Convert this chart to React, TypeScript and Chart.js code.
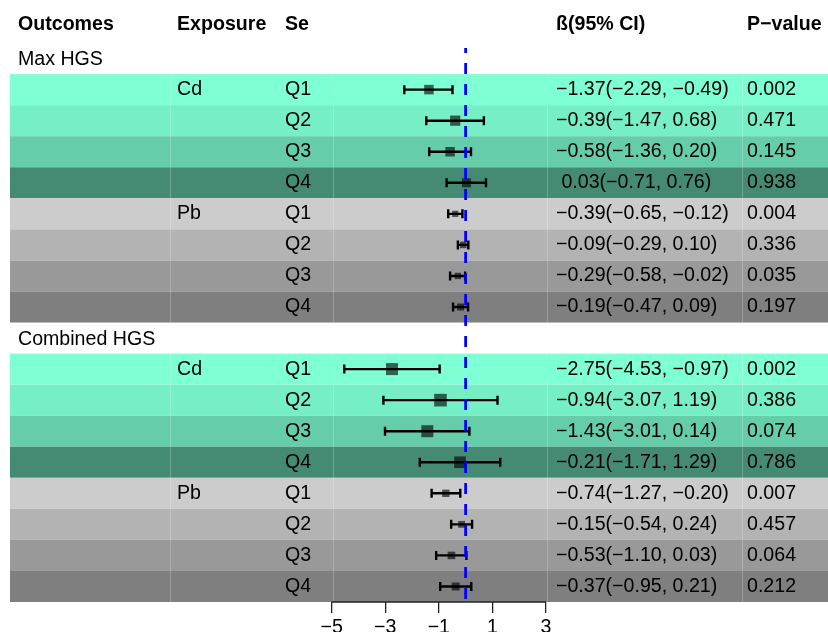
import React, { useEffect, useRef } from "react";
import { Chart, registerables } from "chart.js";

Chart.register(...registerables);

// ---------- data ----------
const outcomes = ["Max HGS", "Combined HGS"];
const exposures = ["Cd", "Pb"];
const quartiles = ["Q1", "Q2", "Q3", "Q4"];

const maxEst = [-1.37, -0.39, -0.58, 0.03, -0.39, -0.09, -0.29, -0.19];
const maxLo = [-2.29, -1.47, -1.36, -0.71, -0.65, -0.29, -0.58, -0.47];
const maxHi = [-0.49, 0.68, 0.2, 0.76, -0.12, 0.1, -0.02, 0.09];
const maxP = ["0.002", "0.471", "0.145", "0.938", "0.004", "0.336", "0.035", "0.197"];

const combEst = [-2.75, -0.94, -1.43, -0.21, -0.74, -0.15, -0.53, -0.37];
const combLo = [-4.53, -3.07, -3.01, -1.71, -1.27, -0.54, -1.1, -0.95];
const combHi = [-0.97, 1.19, 0.14, 1.29, -0.2, 0.24, 0.03, 0.21];
const combP = ["0.002", "0.386", "0.074", "0.786", "0.007", "0.457", "0.064", "0.212"];

const xTicks = [-5, -3, -1, 1, 3];
const headers = ["Outcomes", "Exposure", "Se", "ß(95% CI)", "P−value"];

// ---------- styles ----------
const FONT = "'Liberation Sans', Arial, Helvetica, sans-serif";
const FS = 19.6;
const cdColors = ["#7FFFD4", "#76EEC6", "#66CDAA", "#458B74"];
const pbColors = ["#CCCCCC", "#B3B3B3", "#999999", "#7F7F7F"];
const maxSizes = [9.5, 10.2, 9.5, 9, 6.2, 6.6, 6.4, 7];
const combSizes = [12, 12.6, 12, 11.7, 7.4, 6.8, 7.6, 8];
const colX = { outcome: 18, exposure: 177, se: 285, beta: 556, p: 747 };
const seams = [170, 333, 547, 742];

const fmt = (v: number) => (v < 0 ? "−" : "") + Math.abs(v).toFixed(2);

type Row = {
  kind: "header" | "outcome" | "data";
  outcome?: string;
  exposure?: string;
  q?: string;
  est?: number;
  lo?: number;
  hi?: number;
  p?: string;
  color?: string;
  size?: number;
};

function buildRows(): Row[] {
  const rows: Row[] = [{ kind: "header" }];
  const groups = [
    { est: maxEst, lo: maxLo, hi: maxHi, p: maxP, sizes: maxSizes },
    { est: combEst, lo: combLo, hi: combHi, p: combP, sizes: combSizes },
  ];
  groups.forEach((g, gi) => {
    rows.push({ kind: "outcome", outcome: outcomes[gi] });
    exposures.forEach((ex, ei) => {
      quartiles.forEach((q, qi) => {
        const k = ei * 4 + qi;
        rows.push({
          kind: "data",
          exposure: qi === 0 ? ex : "",
          q,
          est: g.est[k],
          lo: g.lo[k],
          hi: g.hi[k],
          p: g.p[k],
          color: ei === 0 ? cdColors[qi] : pbColors[qi],
          size: g.sizes[k],
        });
      });
    });
  });
  return rows;
}

export default function App() {
  const ref = useRef<HTMLCanvasElement | null>(null);

  useEffect(() => {
    if (!ref.current) return;
    const rows = buildRows();
    const dataRows = rows
      .map((r, i) => ({ r, i }))
      .filter((o) => o.r.kind === "data");

    const bandPlugin = {
      id: "bands",
      beforeDatasetsDraw(chart: any) {
        const { ctx, chartArea, scales } = chart;
        const y = scales.y;
        const x = scales.x;
        ctx.save();
        dataRows.forEach(({ r, i }) => {
          const top = y.getPixelForValue(i - 0.5);
          const bot = y.getPixelForValue(i + 0.5);
          ctx.fillStyle = r.color;
          ctx.fillRect(chartArea.left, top, chartArea.right - chartArea.left, bot - top);
          ctx.strokeStyle = "rgba(255,255,255,0.22)";
          ctx.lineWidth = 1;
          seams.forEach((sx) => {
            ctx.beginPath();
            ctx.moveTo(sx + 0.5, top);
            ctx.lineTo(sx + 0.5, bot);
            ctx.stroke();
          });
        });
        // confidence intervals
        ctx.strokeStyle = "#000";
        ctx.lineWidth = 2.4;
        dataRows.forEach(({ r, i }) => {
          const yc = y.getPixelForValue(i);
          const xl = x.getPixelForValue(r.lo);
          const xh = x.getPixelForValue(r.hi);
          ctx.beginPath();
          ctx.moveTo(xl, yc);
          ctx.lineTo(xh, yc);
          ctx.moveTo(xl, yc - 4.5);
          ctx.lineTo(xl, yc + 4.5);
          ctx.moveTo(xh, yc - 4.5);
          ctx.lineTo(xh, yc + 4.5);
          ctx.stroke();
        });
        ctx.restore();
      },
      afterDatasetsDraw(chart: any) {
        const { ctx, chartArea, scales } = chart;
        const x0 = scales.x.getPixelForValue(0);
        ctx.save();
        ctx.strokeStyle = "#0000FF";
        ctx.lineWidth = 2.8;
        ctx.setLineDash([11, 10]);
        ctx.lineDashOffset = 6;
        ctx.beginPath();
        ctx.moveTo(x0, 48);
        ctx.lineTo(x0, chartArea.bottom);
        ctx.stroke();
        ctx.setLineDash([]);
        // axis line
        ctx.strokeStyle = "#222";
        ctx.lineWidth = 1.3;
        ctx.beginPath();
        ctx.moveTo(scales.x.getPixelForValue(xTicks[0]), chartArea.bottom);
        ctx.lineTo(scales.x.getPixelForValue(xTicks[xTicks.length - 1]), chartArea.bottom);
        ctx.stroke();
        // text
        ctx.fillStyle = "#000";
        ctx.textBaseline = "middle";
        ctx.textAlign = "left";
        const hx = [colX.outcome, colX.exposure, colX.se, colX.beta, colX.p];
        rows.forEach((r, i) => {
          const yc = scales.y.getPixelForValue(i);
          if (r.kind === "header") {
            ctx.font = `bold ${FS}px ${FONT}`;
            headers.forEach((h, k) => ctx.fillText(h, hx[k], yc - 2.5));
          } else if (r.kind === "outcome") {
            ctx.font = `${FS}px ${FONT}`;
            ctx.fillText(r.outcome, colX.outcome, yc + 1.2);
          } else {
            ctx.font = `${FS}px ${FONT}`;
            if (r.exposure) ctx.fillText(r.exposure, colX.exposure, yc);
            ctx.fillText(r.q, colX.se, yc);
            const beta = (r.est >= 0 ? " " : "") + fmt(r.est) + "(" + fmt(r.lo) + ", " + fmt(r.hi) + ")";
            ctx.fillText(beta, colX.beta, yc);
            ctx.fillText(r.p, colX.p, yc);
          }
        });
        ctx.restore();
      },
    };

    const chart = new Chart(ref.current, {
      type: "scatter",
      data: {
        datasets: [
          {
            data: dataRows.map(({ r, i }) => ({ x: r.est, y: i })),
            pointStyle: "rect",
            pointRadius: dataRows.map(({ r }) => r.size / Math.SQRT2),
            pointHoverRadius: dataRows.map(({ r }) => r.size / Math.SQRT2),
            backgroundColor: "rgba(0,0,0,0.62)",
            borderWidth: 0,
          } as any,
        ],
      },
      options: {
        animation: false,
        responsive: false,
        devicePixelRatio: 1,
        layout: { autoPadding: false, padding: { left: 10, right: 0, top: 12, bottom: 0 } },
        plugins: { legend: { display: false }, tooltip: { enabled: false } },
        events: [],
        scales: {
          x: {
            type: "linear",
            min: -17.008,
            max: 13.526,
            border: { display: false },
            grid: {
              drawOnChartArea: false,
              drawTicks: true,
              tickLength: 11,
              color: "#222",
              lineWidth: 1.3,
            },
            afterBuildTicks: (s: any) => {
              s.ticks = xTicks.map((v) => ({ value: v }));
            },
            afterFit: (s: any) => {
              s.height = 30;
              s.paddingLeft = 0;
              s.paddingRight = 0;
            },
            ticks: {
              padding: 3,
              color: "#000",
              font: { family: FONT, size: FS },
              callback: (v: any) => (Number(v) < 0 ? "−" : "") + Math.abs(Number(v)),
            },
          },
          y: {
            type: "linear",
            display: false,
            reverse: true,
            min: -0.5,
            max: rows.length - 0.5,
          },
        },
      },
      plugins: [bandPlugin as any],
    });
    return () => chart.destroy();
  }, []);

  return (
    <div style={{ position: "absolute", left: 0, top: 0, width: 828, height: 632, background: "#fff" }}>
      <canvas ref={ref} width={828} height={632} />
    </div>
  );
}
